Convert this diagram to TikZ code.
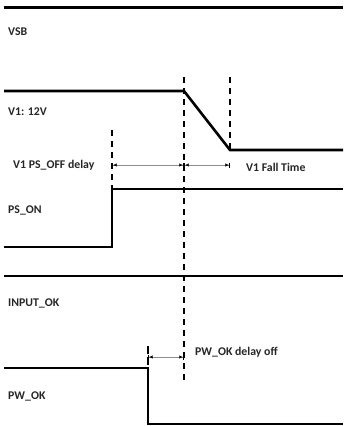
\documentclass[tikz,border=0pt]{standalone}
\usepackage{fontspec}
\setmainfont{Carlito}
\usetikzlibrary{arrows.meta}
\begin{document}
\begin{tikzpicture}[x=1pt,y=-1pt,
  wave/.style={line width=2.6pt,line join=miter},
  marker/.style={line width=2.4pt,dash pattern=on 6pt off 5pt},
  lbl/.style={anchor=west,inner sep=0pt,font=\bfseries\fontsize{11.8}{13}\selectfont,text=black!85},
  meas/.style={draw=black!45,line width=0.5pt,
    {Bar[width=5pt,line width=1.2pt,black]Latex[length=3.5pt,width=3.5pt,black]}-{Latex[length=3.5pt,width=3.5pt,black]Bar[width=5pt,line width=1.2pt,black]}}]
\useasboundingbox (0,0) rectangle (343,426);
% coordinates
\coordinate (vsbL) at (4,7);   \coordinate (vsbR) at (343,7);
\coordinate (v1L) at (4,91);   \coordinate (v1K) at (184,91);
\coordinate (v1B) at (230,150); \coordinate (v1R) at (343,150);
\coordinate (psL) at (4,247);  \coordinate (psK) at (112,247);
\coordinate (psT) at (112,189); \coordinate (psR) at (343,189);
\coordinate (inL) at (4,276);  \coordinate (inR) at (343,276);
\coordinate (pwL) at (4,368);  \coordinate (pwK) at (148,368);
\coordinate (pwB) at (148,424); \coordinate (pwR) at (343,424);
\coordinate (d1T) at (184,77); \coordinate (d1B) at (184,380);
\coordinate (d2T) at (230,77);
\coordinate (d3T) at (112,130);
\coordinate (d4T) at (148,346);
\coordinate (a1) at (112,165); \coordinate (a2) at (184,165); \coordinate (a3) at (230,165);
\coordinate (b1) at (148,357); \coordinate (b2) at (184,357);
% waveforms
\draw[wave,line width=3pt] (vsbL) -- (vsbR);
\draw[wave] (v1L) -- (v1K) -- (v1B) -- (v1R);
\draw[wave] (psL) -- (psK) -- (psT) -- (psR);
\draw[wave] (inL) -- (inR);
\draw[wave] (pwL) -- (pwK) -- (pwB) -- (pwR);
% markers
\draw[marker] (d1T) -- (d1B);
\draw[marker] (d2T) -- (v1B);
\draw[marker] (d3T) -- (psT);
\draw[marker,dash pattern=on 8pt off 3pt] (d4T) -- (pwK);
% measurements
\draw[meas] (a1) -- (a2);
\draw[meas] (a2) -- (a3);
\draw[meas] (b1) -- (b2);
% labels
\node[lbl] (lvsb) at (8,32) {VSB};
\node[lbl] (lv1) at (8,112) {V1: 12V};
\node[lbl] (ldel) at (13,165) {V1 PS\_OFF delay};
\node[lbl] (lfall) at (246,167) {V1 Fall Time};
\node[lbl] (lps) at (8,210) {PS\_ON};
\node[lbl] (lin) at (8,303) {INPUT\_OK};
\node[lbl] (lpwd) at (195,352) {PW\_OK delay off};
\node[lbl] (lpw) at (8,396) {PW\_OK};
\end{tikzpicture}
\end{document}
